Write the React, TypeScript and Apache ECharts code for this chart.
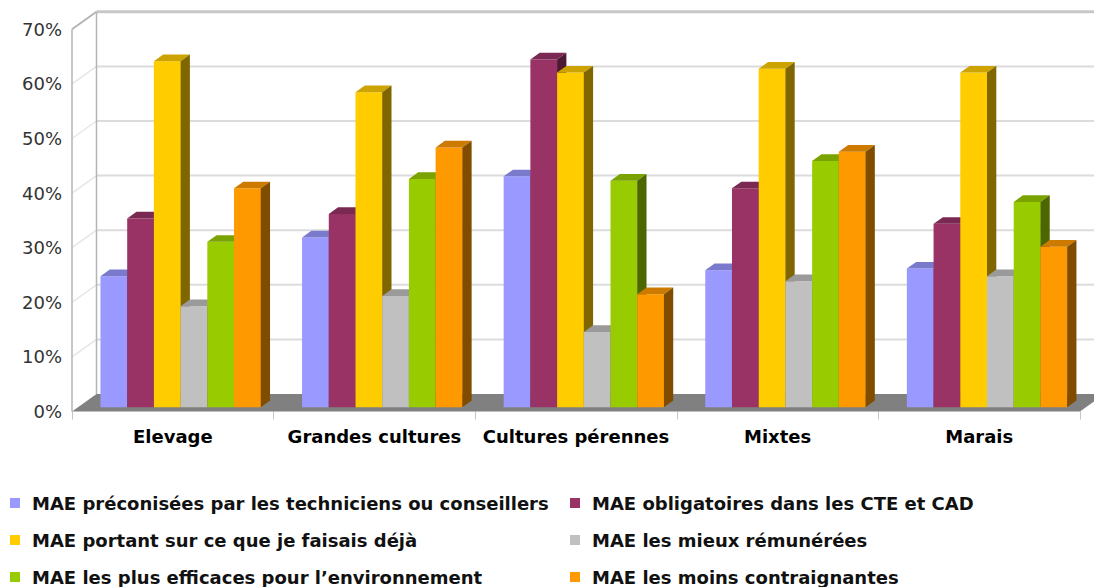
import React, { useEffect, useRef } from 'react';
import * as echarts from 'echarts';

const categories = ['Elevage', 'Grandes cultures', 'Cultures pérennes', 'Mixtes', 'Marais'];
const seriesNames = [
  'MAE préconisées par les techniciens ou conseillers',
  'MAE obligatoires dans les CTE et CAD',
  'MAE portant sur ce que je faisais déjà',
  'MAE les mieux rémunérées',
  'MAE les plus efficaces pour l’environnement',
  'MAE les moins contraignantes',
];
const preconisees = [24.0, 31.1, 42.3, 25.1, 25.4];
const obligatoires = [34.6, 35.4, 63.7, 40.1, 33.6];
const dejaFait = [63.4, 57.7, 61.3, 62.0, 61.3];
const mieuxRemunerees = [18.5, 20.4, 13.8, 23.1, 24.0];
const plusEfficaces = [30.3, 41.8, 41.5, 45.1, 37.6];
const moinsContraignantes = [40.1, 47.6, 20.7, 46.8, 29.4];
const yTicks = [0, 10, 20, 30, 40, 50, 60, 70];
const colors = ['#9999ff', '#993366', '#ffcc00', '#c0c0c0', '#99cc00', '#ff9900'];

const allValues = [preconisees, obligatoires, dejaFait, mieuxRemunerees, plusEfficaces, moinsContraignantes];

// 3D geometry (styling)
const WALL_DX = 24.5;
const WALL_DY = -17.5;
const BAR_OX = 7.8;
const BAR_OY = -4.2;
const BAR_DX = 9.3;
const BAR_DY = -6.7;
const GROUP_RATIO = 0.795;

function shade(hex: string, f: number): string {
  const n = parseInt(hex.slice(1), 16);
  const r = Math.round(((n >> 16) & 255) * f);
  const g = Math.round(((n >> 8) & 255) * f);
  const b = Math.round((n & 255) * f);
  return 'rgb(' + r + ',' + g + ',' + b + ')';
}

export default function App() {
  const ref = useRef<HTMLDivElement>(null);
  useEffect(() => {
    if (!ref.current) return;
    const chart = echarts.init(ref.current, undefined, { renderer: 'svg' });
    const N = seriesNames.length;

    const background = {
      type: 'custom',
      silent: true,
      z: 1,
      data: [[0, 0]],
      renderItem: (params: any, api: any) => {
        const cs = params.coordSys;
        const x0 = cs.x;
        const x1 = cs.x + cs.width;
        const children: any[] = [];
        yTicks.forEach((v) => {
          const y = api.coord([0, v])[1];
          const isTop = v === yTicks[yTicks.length - 1];
          if (v !== 0) {
            children.push({
              type: 'line',
              shape: { x1: x0, y1: y, x2: x0 + WALL_DX, y2: y + WALL_DY },
              style: { stroke: isTop ? '#b4b4b4' : '#e6e6e6', lineWidth: isTop ? 2 : 1.5 },
            });
            children.push({
              type: 'line',
              shape: { x1: x0 + WALL_DX, y1: y + WALL_DY, x2: x1 + WALL_DX, y2: y + WALL_DY },
              style: { stroke: isTop ? '#c8c8c8' : '#dcdcdc', lineWidth: isTop ? 3 : 2 },
            });
          }
        });
        const y0 = api.coord([0, 0])[1];
        const yT = api.coord([0, yTicks[yTicks.length - 1]])[1];
        children.push({
          type: 'line',
          shape: { x1: x0, y1: yT, x2: x0, y2: y0 },
          style: { stroke: '#b4b4b4', lineWidth: 1.5 },
        });
        children.push({
          type: 'line',
          shape: { x1: x0 + WALL_DX, y1: yT + WALL_DY, x2: x0 + WALL_DX, y2: y0 + WALL_DY },
          style: { stroke: '#b4b4b4', lineWidth: 1.5 },
        });
        children.push({
          type: 'polygon',
          shape: {
            points: [
              [x0, y0],
              [x1, y0],
              [x1 + WALL_DX, y0 + WALL_DY],
              [x0 + WALL_DX, y0 + WALL_DY],
            ],
          },
          style: { fill: '#808080' },
        });
        return { type: 'group', children };
      },
    };

    const barSeries = seriesNames.map((name, si) => ({
      type: 'custom',
      name,
      z: 2,
      itemStyle: { color: colors[si] },
      data: allValues[si].map((v, i) => [i, v]),
      renderItem: (params: any, api: any) => {
        const ci = api.value(0);
        const v = api.value(1);
        const base = api.coord([ci, 0]);
        const top = api.coord([ci, v]);
        const band = api.size([1, 0])[0];
        const bw = (band * GROUP_RATIO) / N;
        const left = base[0] - (band * GROUP_RATIO) / 2 + si * bw + BAR_OX;
        const right = left + bw;
        const yb = base[1] + BAR_OY;
        const yt = top[1] + BAR_OY;
        const c = colors[si];
        return {
          type: 'group',
          children: [
            {
              type: 'rect',
              shape: { x: left, y: yt, width: bw + 0.3, height: yb - yt },
              style: { fill: c },
            },
            {
              type: 'polygon',
              shape: {
                points: [
                  [left, yt],
                  [left + BAR_DX, yt + BAR_DY],
                  [right + BAR_DX, yt + BAR_DY],
                  [right, yt],
                ],
              },
              style: { fill: shade(c, 0.8) },
            },
            {
              type: 'polygon',
              shape: {
                points: [
                  [right, yt],
                  [right + BAR_DX, yt + BAR_DY],
                  [right + BAR_DX, yb + BAR_DY],
                  [right, yb],
                ],
              },
              style: { fill: shade(c, 0.5) },
            },
          ],
        };
      },
    }));

    const legendText = {
      fontFamily: 'DejaVu Sans',
      fontWeight: 'bold' as const,
      fontSize: 18,
      color: '#111',
      lineHeight: 18,
    };
    const mkLegend = (idx: number[], left: number) => ({
      data: idx.map((i) => ({
        name: seriesNames[i],
        icon: 'path://M0,0H10V10H0Z',
        itemStyle: { color: colors[i] },
      })),
      orient: 'vertical',
      left,
      top: 494,
      itemWidth: 24,
      itemHeight: 10,
      itemGap: 19,
      padding: 0,
      selectedMode: false,
      textStyle: legendText,
    });

    chart.setOption({
      animation: false,
      backgroundColor: '#ffffff',
      grid: { left: 72, right: 14, top: 29.3, bottom: 175.5 },
      xAxis: {
        type: 'category',
        data: categories,
        boundaryGap: true,
        axisLine: { show: false },
        axisTick: { show: true, length: 8, lineStyle: { color: '#c4c4c4', width: 1 } },
        axisLabel: {
          interval: 0,
          hideOverlap: false,
          fontFamily: 'DejaVu Sans',
          fontWeight: 'bold',
          fontSize: 18,
          color: '#000',
          margin: 16,
        },
        splitLine: { show: false },
      },
      yAxis: {
        type: 'value',
        min: 0,
        max: 70,
        interval: 10,
        axisLine: { show: false },
        axisTick: { show: false },
        splitLine: { show: false },
        axisLabel: {
          formatter: '{value}%',
          fontFamily: 'DejaVu Sans',
          fontSize: 18,
          color: '#333',
          margin: 10,
        },
      },
      legend: [mkLegend([0, 2, 4], 10), mkLegend([1, 3, 5], 570)],
      series: [background, ...barSeries],
    });
    return () => chart.dispose();
  }, []);
  return (
    <div
      ref={ref}
      style={{ position: 'fixed', left: 0, top: 0, width: 1094, height: 587 }}
    />
  );
}
